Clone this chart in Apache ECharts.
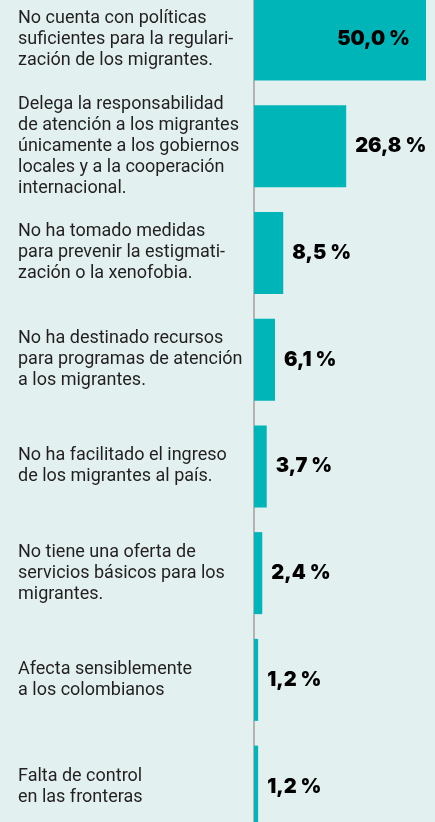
<!DOCTYPE html>
<html>
<head>
<meta charset="utf-8">
<script src="https://cdn.jsdelivr.net/npm/echarts@6/dist/echarts.min.js"></script>
<style>
  html, body { margin: 0; padding: 0; background: #e2f1f0; }
  #chart { width: 435px; height: 822px; }
</style>
</head>
<body>
<div id="chart"></div>
<script>
const categories = [
  'No cuenta con políticas\nsuficientes para la regulari-\nzación de los migrantes.',
  'Delega la responsabilidad\nde atención a los migrantes\núnicamente a los gobiernos\nlocales y a la cooperación\ninternacional.',
  'No ha tomado medidas\npara prevenir la estigmati-\nzación o la xenofobia.',
  'No ha destinado recursos\npara programas de atención\na los migrantes.',
  'No ha facilitado el ingreso\nde los migrantes al país.',
  'No tiene una oferta de\nservicios básicos para los\nmigrantes.',
  'Afecta sensiblemente\na los colombianos',
  'Falta de control\nen las fronteras'
]
const values = [50.0, 26.8, 8.5, 6.1, 3.7, 2.4, 1.2, 1.2]

let chart = echarts.init(document.getElementById('chart'))

const seriesData = values.map((v, i) => {
  if (i === 0) {
    // biggest bar: label sits inside
    return { value: v, label: { position: 'insideRight', distance: 16 } }
  }
  return v
})

chart.setOption({
  backgroundColor: '#e2f1f0',
  grid: {
    left: 254,
    right: 9,
    top: -14,
    height: 854,
    containLabel: false,
    outerBoundsMode: 'none'
  },
  xAxis: {
    type: 'value',
    min: 0,
    max: 50,
    show: false
  },
  yAxis: {
    type: 'category',
    inverse: true,
    data: categories,
    axisLine: {
      show: true,
      lineStyle: { color: '#b3b3b3', width: 2 }
    },
    axisTick: { show: false },
    axisLabel: {
      align: 'left',
      margin: 236,
      fontFamily: 'Roboto, sans-serif',
      fontSize: 18,
      lineHeight: 21,
      color: '#231f20'
    }
  },
  series: [
    {
      type: 'bar',
      data: seriesData,
      barWidth: 82,
      itemStyle: { color: '#00b5b8' },
      label: {
        show: true,
        position: 'right',
        distance: 9,
        fontFamily: 'Inter, sans-serif',
        fontWeight: 900,
        fontSize: 20,
        color: '#000',
        formatter: p => p.value.toFixed(1).replace('.', ',') + ' %'
      }
    }
  ]
})
</script>
</body>
</html>
